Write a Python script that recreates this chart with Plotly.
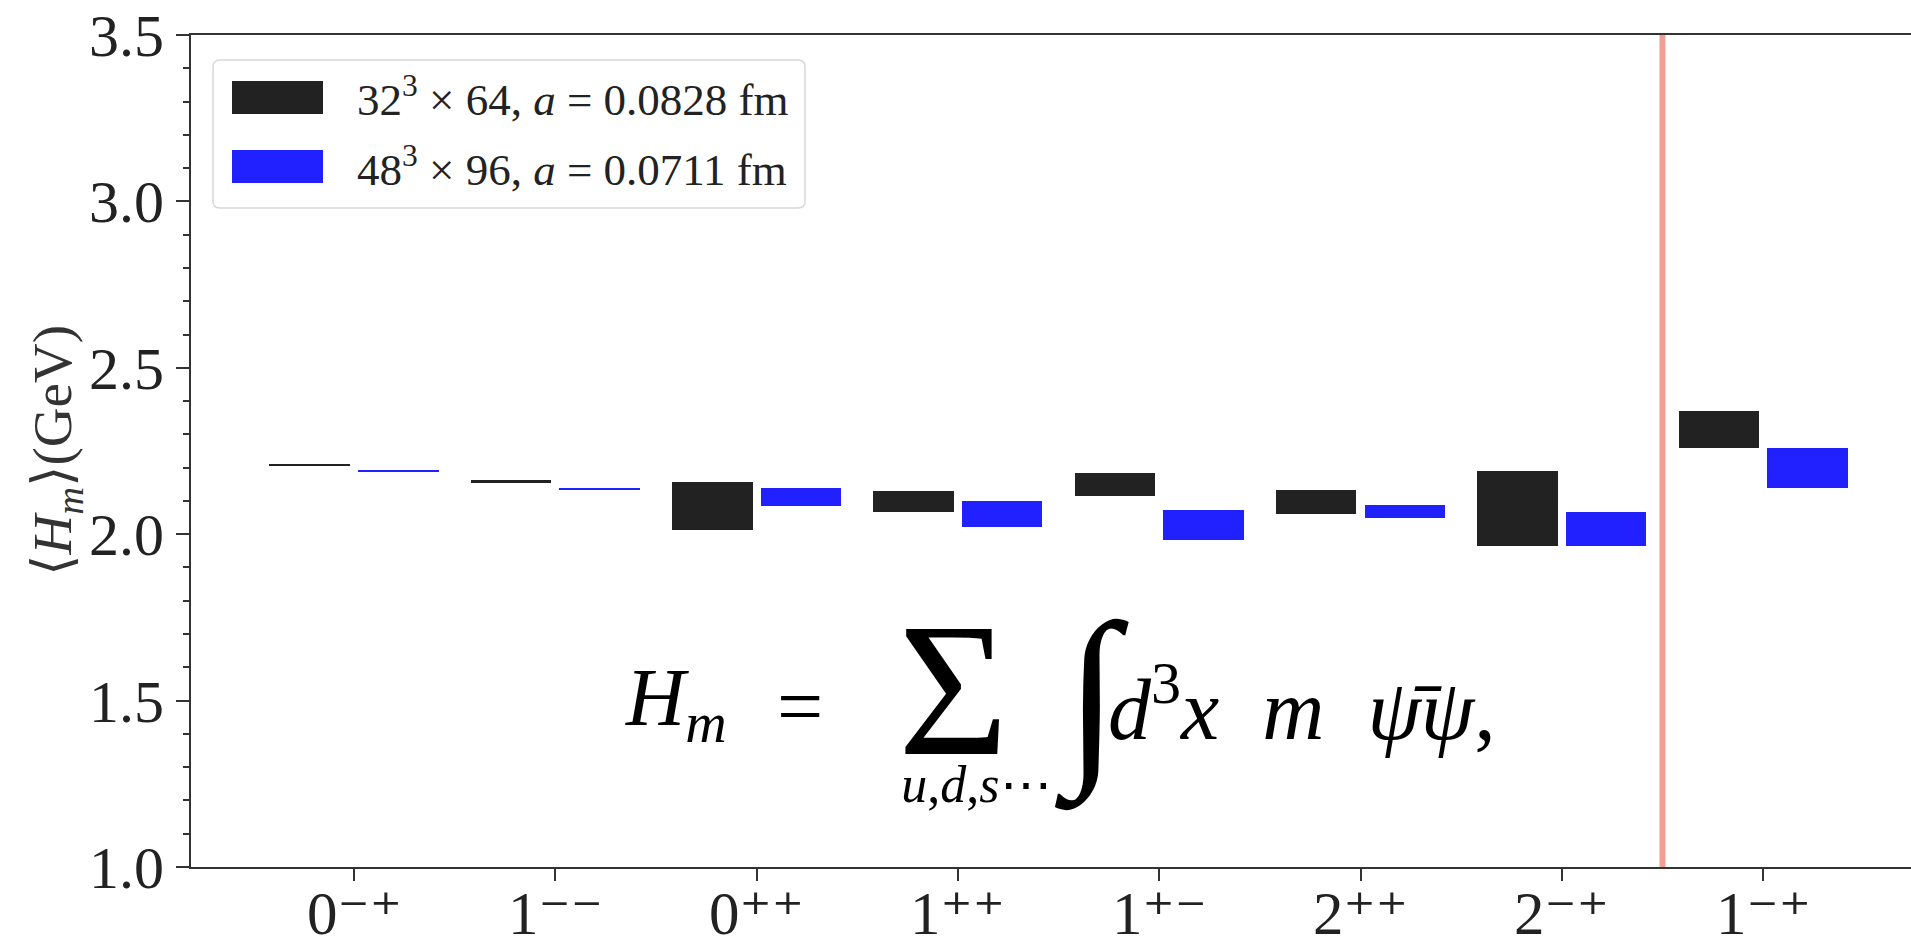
import plotly.graph_objects as go

# ---------------- data ----------------
channels = ["0⁻⁺", "1⁻⁻", "0⁺⁺", "1⁺⁺", "1⁺⁻", "2⁺⁺", "2⁻⁺", "1⁻⁺"]
positions = list(range(len(channels)))

coarse_center = [2.209, 2.159, 2.085, 2.099, 2.150, 2.097, 2.078, 2.314]
coarse_err    = [0.003, 0.003, 0.071, 0.031, 0.035, 0.037, 0.112, 0.055]
fine_center   = [2.190, 2.136, 2.111, 2.061, 2.028, 2.069, 2.016, 2.199]
fine_err      = [0.003, 0.003, 0.027, 0.040, 0.044, 0.019, 0.050, 0.060]

coarse_label = "32<sup>3</sup> × 64, <i>a</i> = 0.0828 fm"
fine_label = "48<sup>3</sup> × 96, <i>a</i> = 0.0711 fm"

y_ticks = [1.0, 1.5, 2.0, 2.5, 3.0, 3.5]
divider_x = 6.5

# ---------------- layout geometry ----------------
W, H = 1911, 937
ML, MR, MT, MB = 191, 0, 35, 70
PW, PH = W - ML - MR, H - MT - MB
FONT = "Liberation Serif, DejaVu Serif, serif"
BLACK = "#222222"
BLUE = "#2121FF"
AX = "#333333"


def px(x):
    return (x - ML) / PW


def py(y):
    return (H - MB - y) / PH


fig = go.Figure()
fig.add_trace(go.Bar(
    x=positions, y=[2 * e for e in coarse_err],
    base=[c - e for c, e in zip(coarse_center, coarse_err)],
    width=0.4, offset=-0.42, marker=dict(color=BLACK, line=dict(width=0)),
    showlegend=False, name="coarse"))
fig.add_trace(go.Bar(
    x=positions, y=[2 * e for e in fine_err],
    base=[c - e for c, e in zip(fine_center, fine_err)],
    width=0.4, offset=0.02, marker=dict(color=BLUE, line=dict(width=0)),
    showlegend=False, name="fine"))

shapes = []
shapes.append(dict(type="line", xref="x", yref="paper", x0=divider_x, x1=divider_x,
                   y0=0, y1=1, line=dict(color="#EFA093", width=6), layer="below"))


def rounded_rect(x0, y0, x1, y1, r):
    rx, ry = r / PW, r / PH
    a0, a1 = px(x0), px(x1)
    b0, b1 = py(y1), py(y0)
    return (f"M {a0+rx},{b0} L {a1-rx},{b0} Q {a1},{b0} {a1},{b0+ry} "
            f"L {a1},{b1-ry} Q {a1},{b1} {a1-rx},{b1} L {a0+rx},{b1} "
            f"Q {a0},{b1} {a0},{b1-ry} L {a0},{b0+ry} Q {a0},{b0} {a0+rx},{b0} Z")


shapes.append(dict(type="path", xref="paper", yref="paper",
                   path=rounded_rect(213, 60, 805, 208, 7),
                   line=dict(color="#D8D8D8", width=1.5), fillcolor="rgba(255,255,255,0.8)"))
for (yy0, yy1, col) in [(81, 114, BLACK), (150, 183, BLUE)]:
    shapes.append(dict(type="rect", xref="paper", yref="paper",
                       x0=px(232), x1=px(323), y0=py(yy1), y1=py(yy0),
                       fillcolor=col, line=dict(width=0)))

annotations = []
for txt, yc in [(coarse_label, 97), (fine_label, 166)]:
    annotations.append(dict(text=txt, xref="paper", yref="paper", x=px(355), y=py(yc),
                            xanchor="left", yanchor="middle", showarrow=False,
                            font=dict(family=FONT, size=45, color="#222")))

annotations.append(dict(text="⟨<i>H</i><sub><i>m</i></sub>⟩(GeV)", xref="paper", yref="paper",
                        x=px(56), y=py(451), textangle=-90, xanchor="center", yanchor="middle",
                        showarrow=False, font=dict(family=FONT, size=55, color="#333")))

# x tick labels (placed as text just under the axis)
for pos, lab in zip(positions, channels):
    annotations.append(dict(text=lab, xref="x", yref="paper", x=pos, y=py(878),
                            xanchor="center", yanchor="top", showarrow=False,
                            font=dict(family=FONT, size=61, color="#222")))

# formula pieces: (text, x px, y px, size, xanchor, yanchor)
sum_text = ("<span style='font-size:190px'>Σ</span>" + "&nbsp;" * 5 +
            "<br><span style='font-size:52px'><i>u</i>,<i>d</i>,<i>s</i>⋯</span>")
formula_parts = [
    ("<i>H</i><sub><i>m</i></sub>", 623, 703, 82, "left", "middle"),
    ("=", 800, 706, 82, "center", "middle"),
    (sum_text, 976, 815, 37, "center", "bottom"),
    ("∫", 1092, 697, 195, "center", "middle"),
    ("<i>d</i><sup>3</sup><i>x</i>&nbsp;&nbsp;<i>m</i>&nbsp;&nbsp;<i>ψ̄ψ</i>,",
     1106, 703, 86, "left", "middle"),
]
for txt, xx, yy, sz, xa, ya in formula_parts:
    annotations.append(dict(text=txt, xref="paper", yref="paper", x=px(xx), y=py(yy),
                            xanchor=xa, yanchor=ya, showarrow=False,
                            font=dict(family=FONT, size=sz, color="#000")))

fig.update_layout(
    width=W, height=H, autosize=False,
    margin=dict(l=ML, r=MR, t=MT, b=MB, pad=0, autoexpand=False),
    paper_bgcolor="white", plot_bgcolor="white",
    barmode="overlay", bargap=0,
    shapes=shapes, annotations=annotations,
    showlegend=False,
    xaxis=dict(range=[-(354 - ML) / 201.3, (W - 354) / 201.3],
               tickvals=positions, showticklabels=False, automargin=False,
               showgrid=False, zeroline=False,
               showline=True, linecolor=AX, linewidth=2, mirror=True,
               ticks="outside", ticklen=12, tickwidth=2, tickcolor=AX),
    yaxis=dict(range=[1.0, 3.5], tickvals=y_ticks, ticktext=[f"{v:.1f}" for v in y_ticks],
               automargin=False,
               showgrid=False, zeroline=False,
               showline=True, linecolor=AX, linewidth=2,
               ticks="outside", ticklen=13, tickwidth=2, tickcolor=AX,
               minor=dict(dtick=0.1, ticks="outside", ticklen=6, tickwidth=1.5, tickcolor=AX),
               tickfont=dict(family=FONT, size=60, color="#222")),
)

fig.write_html("out.html")
